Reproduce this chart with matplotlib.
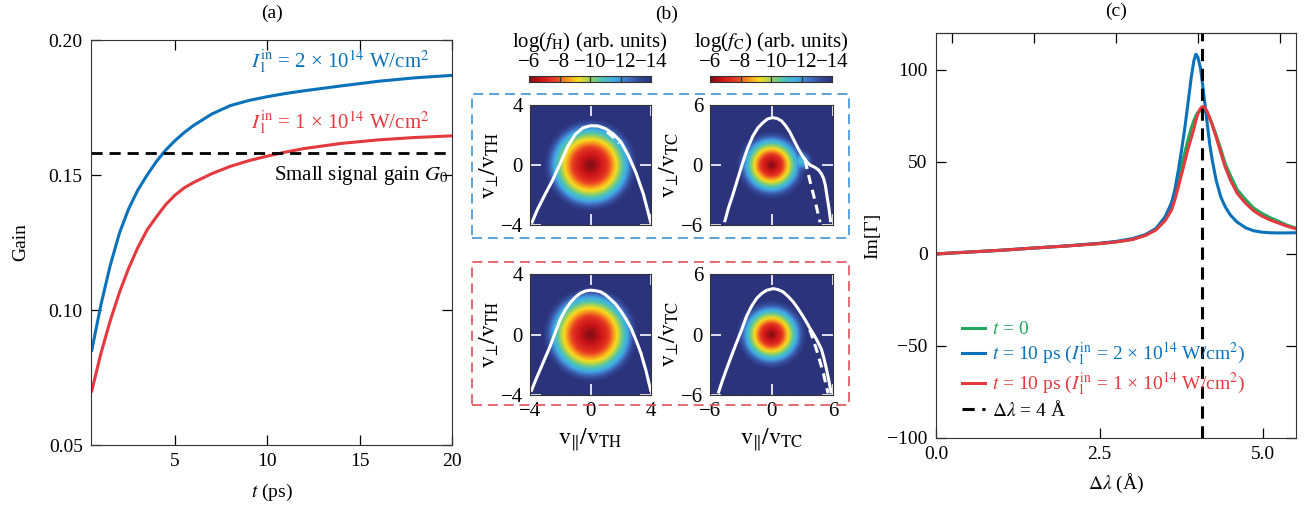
import numpy as np
import matplotlib
matplotlib.use('Agg')
import matplotlib.pyplot as plt
from matplotlib.colors import LinearSegmentedColormap
from matplotlib.patches import Rectangle

plt.rcParams['font.family'] = ['Liberation Serif', 'DejaVu Serif']
plt.rcParams['mathtext.fontset'] = 'stix'
plt.rcParams['font.size'] = 14
plt.rcParams['axes.unicode_minus'] = True

# ---------------- data: panel (a) ----------------
t_ps = [0.5, 1.0, 1.5, 2.0, 2.5, 3.0, 3.5, 4.0, 4.5, 5.0, 5.5, 6.0, 7.0, 8.0,
        9.0, 10.0, 11.0, 12.0, 14.0, 16.0, 18.0, 20.0]
gain_2e14 = [0.085, 0.102, 0.1165, 0.1285, 0.1375, 0.1445, 0.150, 0.155, 0.1592, 0.1627,
             0.1657, 0.1683, 0.1726, 0.1757, 0.1776, 0.1790, 0.1802, 0.1812, 0.1830, 0.1847,
             0.1860, 0.1869]
gain_1e14 = [0.070, 0.084, 0.096, 0.1065, 0.1155, 0.1232, 0.1297, 0.1345, 0.139, 0.1425,
             0.1452, 0.1472, 0.1505, 0.1532, 0.1553, 0.1570, 0.1585, 0.1598, 0.1617, 0.1630,
             0.1639, 0.1645]
G0 = 0.158

# ---------------- data: panel (c) ----------------
dlam = [0.0, 0.5, 1.0, 1.5, 2.0, 2.5, 2.75, 3.0, 3.2, 3.36, 3.5, 3.6, 3.65, 3.7, 3.75, 3.8,
        3.85, 3.9, 3.94, 3.97, 4.0, 4.04, 4.07, 4.1, 4.14, 4.18, 4.22, 4.28, 4.35, 4.42,
        4.5, 4.6, 4.73, 4.85, 4.98, 5.1, 5.23, 5.35, 5.5]
im_t0 = [0, 1.0, 2.0, 3.2, 4.3, 5.6, 6.5, 7.9, 10.2, 13.5, 20, 27, 33, 41, 48, 55,
         62, 68.5, 72.5, 75, 76.8, 77.8, 78, 77.7, 76.6, 74, 70.5, 64.5, 57, 49,
         42.5, 35, 29.5, 25, 22, 19.8, 17.8, 15.8, 14.0]
im_2e14 = [0, 1.0, 2.0, 3.2, 4.4, 5.8, 6.8, 8.3, 10.5, 13.8, 20, 28, 35, 45, 56, 68,
           82, 96, 105, 108.5, 107, 101, 93, 84, 72, 60, 51, 40, 31, 25.5,
           21, 17.3, 14.2, 12.6, 11.8, 11.5, 11.4, 11.4, 11.5]
im_1e14 = [0, 1.0, 2.0, 3.2, 4.3, 5.6, 6.5, 7.8, 10.0, 13.0, 18, 24, 29.5, 36, 43, 50,
           57, 63, 68, 72.5, 76, 79, 80, 79.8, 77.5, 74, 70, 63.5, 55, 47,
           40, 33, 27.5, 23.5, 20.5, 18.5, 16.8, 15.2, 13.6]
dlam_line = 4.07
top_ticks_c = [0.25, 1.5, 2.75, 4.0, 5.25]

# ---------------- data: panel (b) ----------------
cbar_ticks = [-6, -8, -10, -12, -14]
# radial profiles of log f (radius in thermal-velocity units)
hot_top_r = [0, 0.3, 1.0, 1.3, 1.58, 1.8, 2.08, 2.35, 2.7, 3.1, 8]
hot_top_logf = [-6, -6.3, -7.3, -8.0, -8.8, -9.5, -10.5, -11.4, -12.8, -14, -14]
cold_top_r = [0, 0.25, 0.95, 1.22, 1.52, 1.75, 2.1, 2.4, 2.85, 3.45, 12]
cold_top_logf = [-6, -6.3, -7.3, -8.0, -8.8, -9.5, -10.5, -11.4, -12.8, -14, -14]
cold_top_lobe_center = (2.9, 0.4)
cold_top_lobe_r = [0, 0.6, 1.2, 12]
cold_top_lobe_logf = [-11.0, -12.2, -14, -14]
hot_bot_r = [0, 0.3, 1.05, 1.35, 1.63, 1.85, 2.13, 2.4, 2.75, 3.15, 8]
hot_bot_logf = [-6, -6.3, -7.3, -8.0, -8.8, -9.5, -10.5, -11.4, -12.8, -14, -14]
cold_bot_r = [0, 0.25, 0.95, 1.22, 1.52, 1.75, 2.1, 2.4, 2.85, 3.45, 12]
cold_bot_logf = [-6, -6.3, -7.3, -8.0, -8.8, -9.5, -10.5, -11.4, -12.8, -14, -14]

# white boundary curves
hot_top_x = [-3.9, -3.5, -3.0, -2.5, -2.0, -1.5, -1.0, -0.5, 0.0, 0.5, 1.0, 1.5, 2.0,
             2.5, 3.0, 3.5, 4.0]
hot_top_y = [-3.9, -2.95, -1.95, -1.0, 0.1, 1.25, 2.05, 2.48, 2.62, 2.6, 2.42, 2.07, 1.56,
             0.64, -0.5, -1.95, -3.9]
hot_top_dash_x = [1.1, 1.5, 1.9]
hot_top_dash_y = [2.2, 1.85, 1.45]
cold_top_x = [-4.58, -4.2, -3.76, -3.3, -2.78, -2.3, -1.8, -1.3, -0.82, -0.4, 0.1, 0.55,
              0.98, 1.4, 1.8, 2.2, 2.61, 3.0, 3.27, 3.5, 3.76, 4.2, 4.58, 4.85, 5.07,
              5.25, 5.39, 5.6, 5.78]
cold_top_y = [-5.72, -4.3, -2.94, -1.4, 0.33, 1.75, 2.94, 3.75, 4.25, 4.6, 4.74, 4.65,
              4.41, 3.9, 3.27, 2.45, 1.63, 0.95, 0.55, 0.25, 0.0, -0.22, -0.49, -0.85,
              -1.31, -2.0, -2.94, -4.3, -5.72]
cold_top_dash_x = [3.27, 3.76, 4.25, 4.74]
cold_top_dash_y = [0.49, -1.63, -3.6, -5.72]
hot_bot_x = [-3.93, -3.6, -3.33, -3.0, -2.67, -2.33, -2.0, -1.67, -1.33, -1.0, -0.67,
             -0.33, 0.0, 0.33, 0.67, 1.0, 1.33, 1.67, 2.0, 2.33, 2.67, 3.0, 3.33, 3.67, 4.0]
hot_bot_y = [-3.78, -2.95, -2.33, -1.55, -0.78, 0.12, 1.0, 1.62, 2.11, 2.47, 2.73, 2.88,
             2.93, 2.9, 2.82, 2.62, 2.33, 2.0, 1.56, 1.05, 0.44, -0.35, -1.22, -2.4, -3.78]
cold_bot_x = [-5.2, -4.8, -4.38, -3.9, -3.41, -2.9, -2.44, -1.95, -1.46, -0.98, -0.49,
              0.16, 0.65, 1.14, 1.6, 2.11, 2.6, 3.08, 3.4, 3.73, 4.0, 4.22, 4.55, 4.87,
              5.1, 5.36, 5.6, 5.84]
cold_bot_y = [-5.84, -4.6, -3.41, -2.1, -0.81, 0.5, 1.79, 2.8, 3.57, 4.05, 4.38, 4.55,
              4.45, 4.22, 3.8, 3.25, 2.55, 1.79, 1.25, 0.65, 0.2, -0.16, -0.8, -1.46,
              -2.3, -3.41, -4.6, -5.84]
cold_bot_dash_x = [3.73, 4.38, 5.03, 5.52]
cold_bot_dash_y = [0.49, -1.46, -3.73, -5.84]

# ---------------- styles ----------------
C_BLUE = '#0a72bb'
C_RED = '#e4393f'
C_GREEN = '#1faa5a'
cmap = LinearSegmentedColormap.from_list('fcm', [
    (0.00, (0.50, 0.05, 0.08)), (0.10, (0.80, 0.08, 0.10)), (0.22, (0.92, 0.25, 0.14)),
    (0.30, (0.96, 0.55, 0.12)), (0.40, (0.98, 0.86, 0.12)), (0.50, (0.62, 0.82, 0.35)),
    (0.60, (0.30, 0.76, 0.72)), (0.70, (0.25, 0.68, 0.90)), (0.80, (0.26, 0.47, 0.78)),
    (0.90, (0.20, 0.29, 0.60)), (1.00, (0.17, 0.20, 0.48))])

W, H = 1307, 507
fig = plt.figure(figsize=(W / 100, H / 100), dpi=100)


def fr(x0, y0, x1, y1):
    return [x0 / W, 1 - y1 / H, (x1 - x0) / W, (y1 - y0) / H]


tick_kw = dict(direction='in', length=7, width=0.9, top=True, right=True)

# ---------------- panel (a) ----------------
ax = fig.add_axes(fr(91, 40, 452, 445))
ax.plot(t_ps, gain_2e14, color=C_BLUE, lw=2.2)
ax.plot(t_ps, gain_1e14, color=C_RED, lw=2.2)
ax.axhline(G0, color='k', lw=2.0, ls=(0, (4, 2.5)))
ax.set_xlim(0.46, 20)
ax.set_ylim(0.05, 0.20)
ax.set_xticks([5, 10, 15, 20])
ax.set_yticks([0.05, 0.10, 0.15, 0.20])
ax.set_yticklabels(['0.05', '0.10', '0.15', '0.20'])
ax.tick_params(**tick_kw, pad=6)
ax.set_xlabel('$t$ (ps)', labelpad=8)
ax.set_ylabel('Gain', labelpad=14)
ax.set_title('(a)', fontsize=14, pad=16)
ax.text(18.8, 0.1920, r'$I_1^{\rm in}$ = 2 × 10$^{14}$ W/cm$^2$', color=C_BLUE,
        ha='right', va='center', fontsize=15)
ax.text(18.8, 0.1695, r'$I_1^{\rm in}$ = 1 × 10$^{14}$ W/cm$^2$', color=C_RED,
        ha='right', va='center', fontsize=15)
ax.text(19.8, 0.1500, r'Small signal gain $G_0$', color='k', ha='right', va='center', fontsize=15)
for s in ax.spines.values():
    s.set_color('#333333')

# ---------------- panel (b) ----------------
def vgrid(lim):
    v = np.linspace(-lim, lim, 241)
    return np.meshgrid(v, v)


def draw_map(box, lim, prof_r, prof_f, cx, cy, dcx, dcy, ylab, xlab, ticks, lobe=None):
    a = fig.add_axes(fr(*box))
    X, Y = vgrid(lim)
    R = np.hypot(X, Y)
    Z = np.interp(R, prof_r, prof_f)
    if lobe is not None:
        c, lr, lf = lobe
        R2 = np.hypot(X - c[0], Y - c[1])
        Z = np.maximum(Z, np.interp(R2, lr, lf))
    a.imshow(-Z, extent=[-lim, lim, -lim, lim], origin='lower', cmap=cmap,
             vmin=6, vmax=14, interpolation='bilinear', aspect='auto')
    a.plot(cx, cy, color='white', lw=2.2, solid_capstyle='butt', solid_joinstyle='round')
    if dcx is not None:
        a.plot(dcx, dcy, color='white', lw=2.2, ls=(0, (3, 2)))
    a.set_xlim(-lim, lim)
    a.set_ylim(-lim, lim)
    a.set_xticks(ticks)
    a.set_yticks(ticks)
    a.tick_params(direction='in', length=8, width=1.2, color='white', labelcolor='black',
                  top=True, right=True, pad=5, labelsize=15)
    if xlab:
        a.set_xlabel(xlab, labelpad=4, fontsize=17)
    else:
        a.set_xticklabels([])
    a.set_ylabel(ylab, labelpad=0, fontsize=17)
    for s in a.spines.values():
        s.set_color('#333333')
    return a


ylab_H = r'$\mathrm{v}_{⊥}/\mathrm{v}_\mathrm{TH}$'
ylab_C = r'$\mathrm{v}_{⊥}/\mathrm{v}_\mathrm{TC}$'
xlab_H = r'$\mathrm{v}_{‖}/\mathrm{v}_\mathrm{TH}$'
xlab_C = r'$\mathrm{v}_{‖}/\mathrm{v}_\mathrm{TC}$'

draw_map((530, 105, 651, 225), 4, hot_top_r, hot_top_logf, hot_top_x, hot_top_y,
         hot_top_dash_x, hot_top_dash_y, ylab_H, None, [-4, 0, 4])
draw_map((710, 105, 833, 225), 6, cold_top_r, cold_top_logf, cold_top_x, cold_top_y,
         cold_top_dash_x, cold_top_dash_y, ylab_C, None, [-6, 0, 6],
         lobe=(cold_top_lobe_center, cold_top_lobe_r, cold_top_lobe_logf))
draw_map((530, 274, 651, 395), 4, hot_bot_r, hot_bot_logf, hot_bot_x, hot_bot_y,
         None, None, ylab_H, xlab_H, [-4, 0, 4])
draw_map((710, 274, 833, 395), 6, cold_bot_r, cold_bot_logf, cold_bot_x, cold_bot_y,
         cold_bot_dash_x, cold_bot_dash_y, ylab_C, xlab_C, [-6, 0, 6])

# colorbars
for (x0, x1, lab) in [(529, 651, r'log($f_\mathrm{H}$) (arb. units)'),
                      (710, 832, r'log($f_\mathrm{C}$) (arb. units)')]:
    cax = fig.add_axes(fr(x0, 76, x1, 82))
    grad = np.linspace(-6, -14, 256).reshape(1, -1)
    cax.imshow(-grad, extent=[-6, -14, 0, 1], cmap=cmap, vmin=6, vmax=14, aspect='auto')
    cax.set_xlim(-6, -14)
    for v in cbar_ticks[1:-1]:
        cax.axvline(v, color='#333333', lw=0.9)
    cax.set_yticks([])
    cax.set_xticks(cbar_ticks)
    cax.set_xticklabels(['\u2212' + str(abs(v)) for v in cbar_ticks])
    cax.xaxis.set_ticks_position('top')
    cax.tick_params(length=0, pad=3, labelsize=15)
    for s in cax.spines.values():
        s.set_color('#333333')
    fig.text((x0 + x1) / 2 / W, 1 - 42 / H, lab, ha='center', va='center', fontsize=15)

fig.text(667 / W, 1 - 14 / H, '(b)', ha='center', va='center', fontsize=14)

# dashed boxes
for (x0, y0, x1, y1, col) in [(472, 94, 849, 238, '#3d94d6'), (472, 262, 849, 405, '#e0505a')]:
    fig.patches.append(Rectangle((x0 / W, 1 - y1 / H), (x1 - x0) / W, (y1 - y0) / H,
                                 transform=fig.transFigure, fill=False, edgecolor=col,
                                 lw=1.2, ls=(0, (6, 3.5))))

# ---------------- panel (c) ----------------
axc = fig.add_axes(fr(936, 33, 1296, 438))
l0, = axc.plot(dlam, im_t0, color=C_GREEN, lw=2.2)
l2, = axc.plot(dlam, im_2e14, color=C_BLUE, lw=2.2)
l1, = axc.plot(dlam, im_1e14, color=C_RED, lw=2.2)
ld = axc.axvline(dlam_line, color='k', lw=2.2, ls=(0, (4, 2.5)))
axc.set_xlim(0, 5.5)
axc.set_ylim(-100, 120)
axc.set_xticks([0, 2.5, 5.0])
axc.set_xticklabels(['0.0', '2.5', '5.0'])
axc.set_yticks([-100, -50, 0, 50, 100])
axc.tick_params(direction='in', length=7, width=0.9, right=True, pad=6)
sec = axc.secondary_xaxis('top')
sec.set_xticks(top_ticks_c)
sec.tick_params(direction='in', length=7, width=0.9, labeltop=False)
axc.set_xlabel(r'$\Delta\lambda$ (Å)', labelpad=6)
axc.set_ylabel('Im[Γ]', labelpad=4)
axc.set_title('(c)', fontsize=14, pad=12)
leg = axc.legend([l0, l2, l1, ld],
                 [r'$t$ = 0',
                  r'$t$ = 10 ps ($I_1^{\rm in}$ = 2 × 10$^{14}$ W/cm$^2$)',
                  r'$t$ = 10 ps ($I_1^{\rm in}$ = 1 × 10$^{14}$ W/cm$^2$)',
                  r'$\Delta\lambda$ = 4 Å'],
                 loc='lower left', bbox_to_anchor=(0.05, 0.025), frameon=False,
                 handlelength=1.2, handletextpad=0.35, labelspacing=0.12, fontsize=14,
                 borderaxespad=0)
for txt, col in zip(leg.get_texts(), [C_GREEN, C_BLUE, C_RED, 'k']):
    txt.set_color(col)
for s in axc.spines.values():
    s.set_color('#333333')

fig.savefig('out.png', dpi=100)
